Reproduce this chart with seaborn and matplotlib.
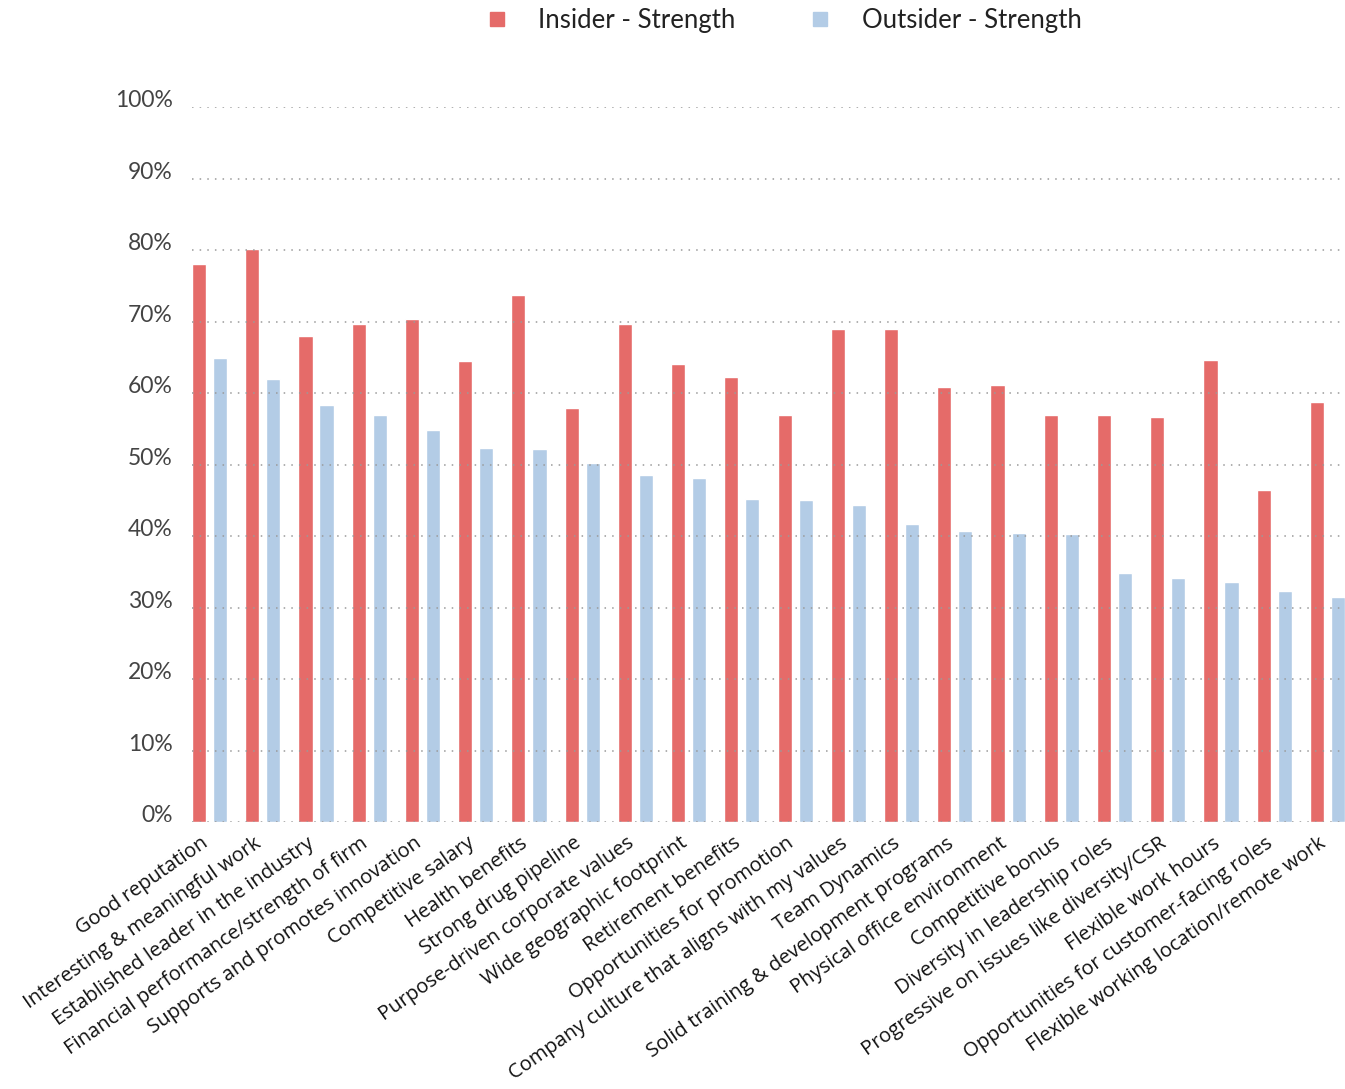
import matplotlib
matplotlib.use("Agg")
import matplotlib.pyplot as plt
import matplotlib.transforms as mtransforms
from matplotlib.font_manager import FontProperties
from matplotlib.lines import Line2D
import pandas as pd
import seaborn as sns

categories = [
    "Good reputation",
    "Interesting & meaningful work",
    "Established leader in the industry",
    "Financial performance/strength of firm",
    "Supports and promotes innovation",
    "Competitive salary",
    "Health benefits",
    "Strong drug pipeline",
    "Purpose-driven corporate values",
    "Wide geographic footprint",
    "Retirement benefits",
    "Opportunities for promotion",
    "Company culture that aligns with my values",
    "Team Dynamics",
    "Solid training & development programs",
    "Physical office environment",
    "Competitive bonus",
    "Diversity in leadership roles",
    "Progressive on issues like diversity/CSR",
    "Flexible work hours",
    "Opportunities for customer-facing roles",
    "Flexible working location/remote work",
]

insider = [78.1, 80.2, 68.0, 69.6, 70.4, 64.5, 73.7, 57.9, 69.6, 64.1, 62.3,
           57.0, 68.9, 69.0, 60.8, 61.2, 57.0, 57.0, 56.7, 64.7, 46.5, 58.8]
outsider = [64.9, 62.0, 58.4, 56.9, 54.9, 52.3, 52.2, 50.2, 48.6, 48.2, 45.2,
            45.0, 44.4, 41.7, 40.7, 40.5, 40.3, 34.9, 34.2, 33.6, 32.4, 31.5]

series_names = ["Insider - Strength", "Outsider - Strength"]
series_colors = ["#E56B69", "#B3CCE6"]
y_ticks = list(range(0, 101, 10))

df = pd.DataFrame({
    "category": categories * 2,
    "value": insider + outsider,
    "series": [series_names[0]] * len(categories) + [series_names[1]] * len(categories),
})

sns.set_style("white")
plt.rcParams["font.family"] = ["Lato", "DejaVu Sans"]

fig = plt.figure(figsize=(13.45, 10.89), dpi=100)
ax = fig.add_axes([192 / 1345, 1 - 822.3 / 1089, (1345 - 192) / 1345, (822.3 - 107) / 1089])

sns.barplot(
    data=df, x="category", y="value", hue="series",
    palette=series_colors, width=0.79, gap=0.33,
    saturation=1, errorbar=None, legend=False, ax=ax,
)

ax.set_xlim(-0.33, len(categories) - 1 + 0.33)
ax.set_ylim(0, 100)
ax.set_yticks(y_ticks)
ax.set_yticklabels([f"{t}%" for t in y_ticks], fontsize=16.5, color="#444444")
y_shift = mtransforms.ScaledTranslation(0, 3 / 100, fig.dpi_scale_trans)
for lbl in ax.get_yticklabels():
    lbl.set_verticalalignment("baseline")
    lbl.set_transform(lbl.get_transform() + y_shift)
ax.tick_params(axis="y", length=0, pad=14)
ax.tick_params(axis="x", length=0, pad=0)

# category labels in a wider sans face, slanted up to the right
label_font = FontProperties(family=["Open Sans", "DejaVu Sans"], size=14.5)
ax.set_xticks(range(len(categories)))
ax.set_xticklabels(categories, rotation=35, ha="right", va="top",
                   rotation_mode="anchor", color="#111111",
                   fontproperties=label_font)
x_shift = mtransforms.ScaledTranslation(-9 / 100, -11 / 100, fig.dpi_scale_trans)
for lbl in ax.get_xticklabels():
    lbl.set_transform(lbl.get_transform() + x_shift)

ax.set_xlabel("")
ax.set_ylabel("")
for s in ax.spines.values():
    s.set_visible(False)

# dotted horizontal gridlines drawn over the bars
ax.set_axisbelow(False)
ax.yaxis.grid(True, linestyle=(0, (1, 4)), linewidth=1.1, color="#9a9a9a")
ax.xaxis.grid(False)

handles = [Line2D([], [], marker="s", linestyle="", markersize=10,
                  markerfacecolor=c, markeredgecolor=c) for c in series_colors]
fig.legend(handles, series_names, loc="upper center", bbox_to_anchor=(0.583, 1.014),
           ncol=2, frameon=False, handlelength=0.8,
           handletextpad=1.2, columnspacing=2.9, labelcolor="#222222",
           prop={"size": 18.5})

fig.savefig("out.png", dpi=100)
